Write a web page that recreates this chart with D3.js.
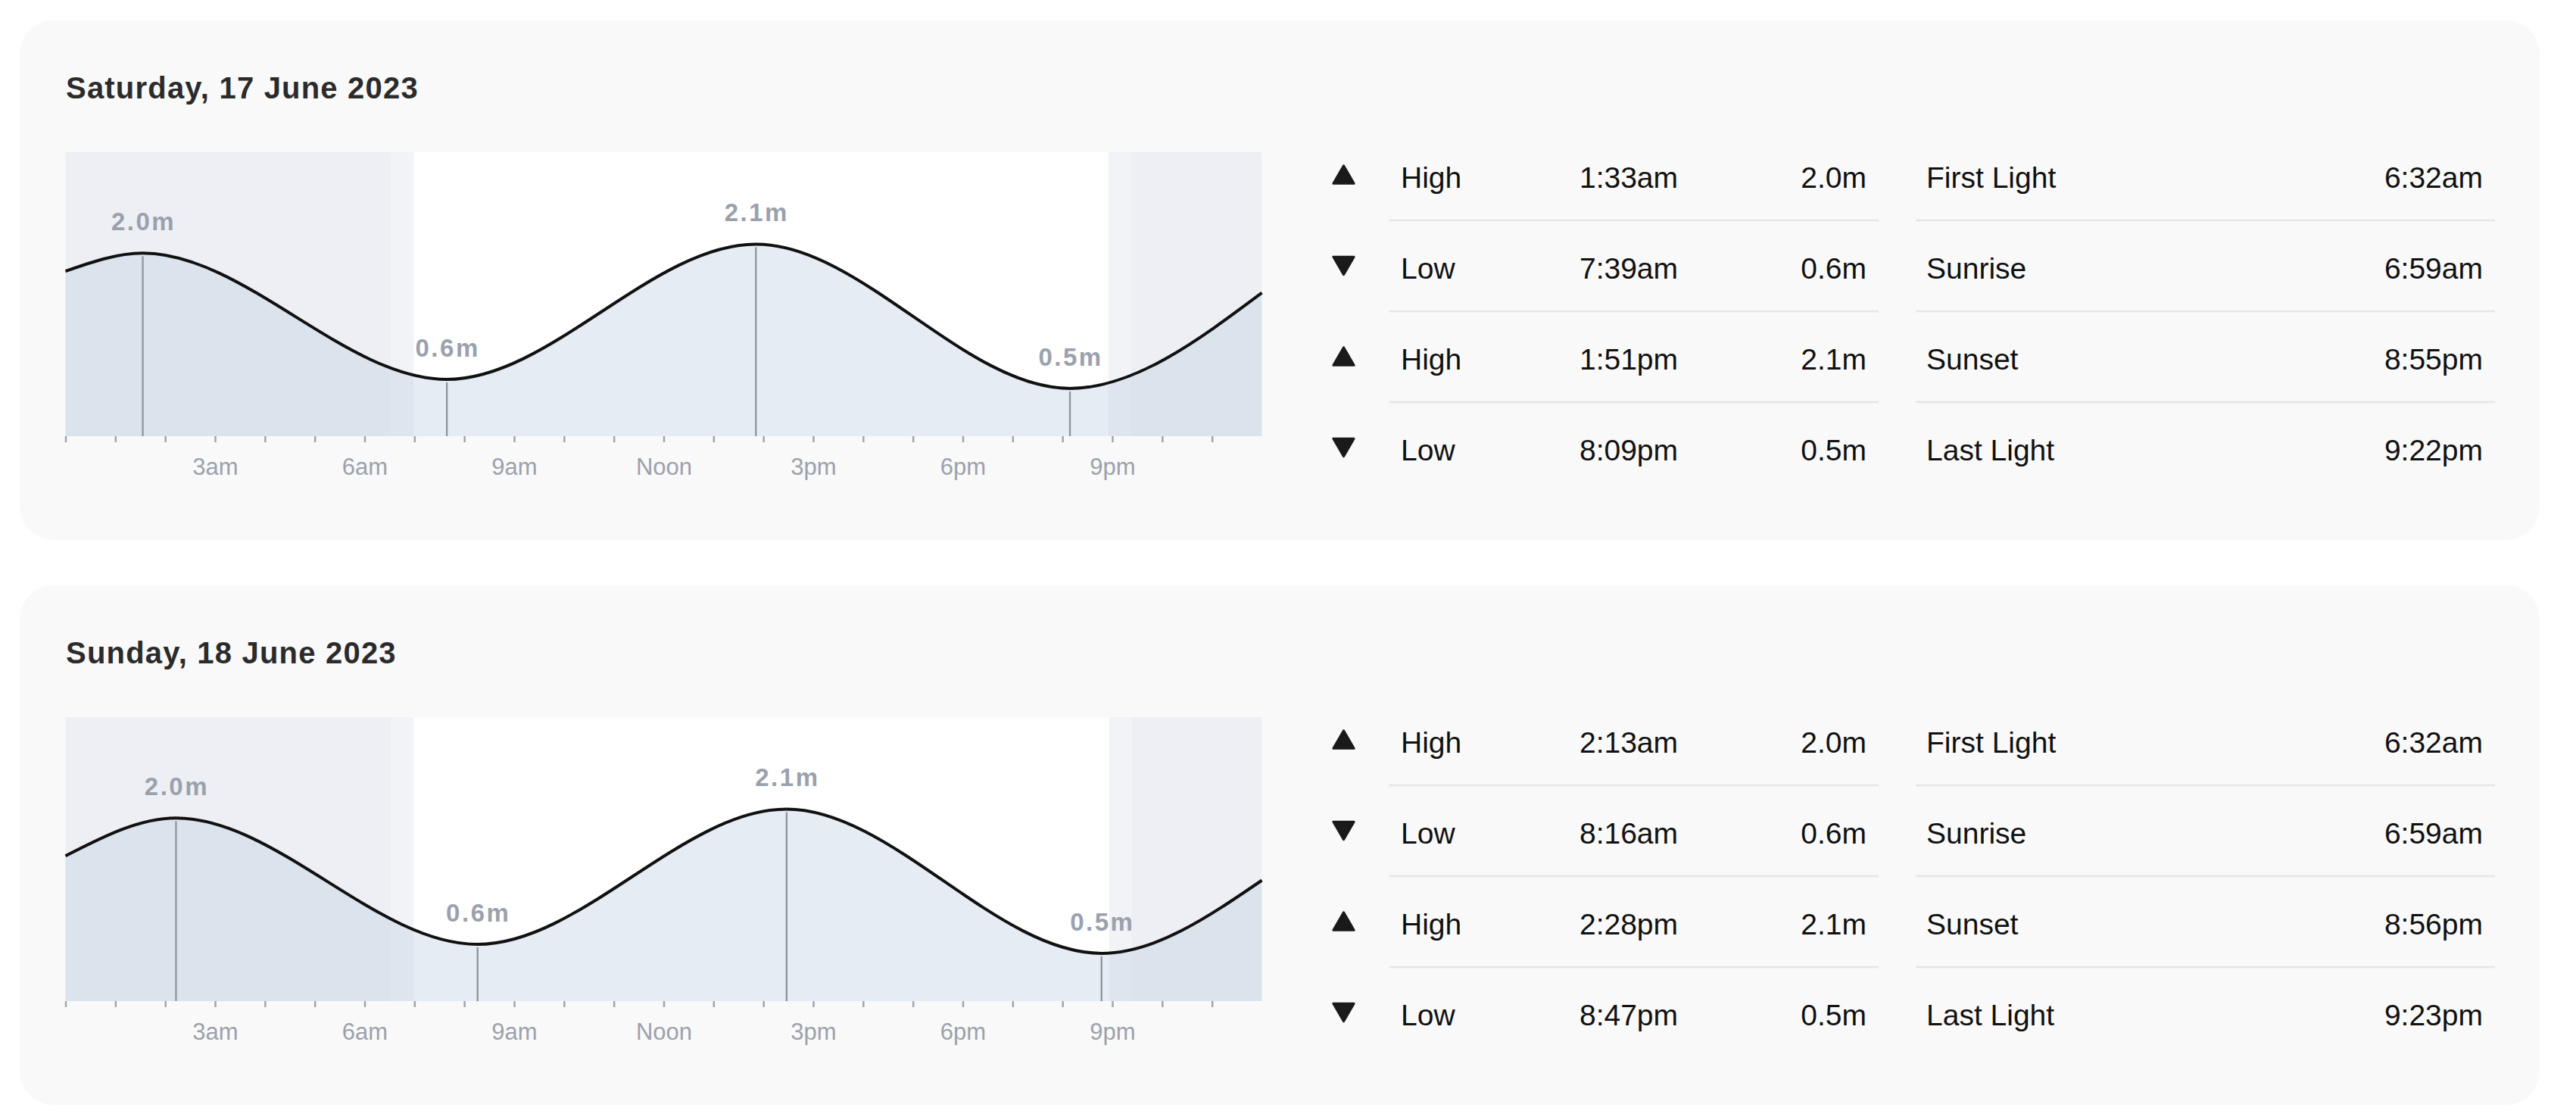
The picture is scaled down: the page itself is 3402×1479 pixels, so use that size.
<html>

<head>
    <script src="https://d3js.org/d3.v7.min.js"></script>
    <style>
        body {
            margin: 0;
            background: white;
        }

        text {
            font-family: "Liberation Sans", Arial, sans-serif;
        }

        .tick text {
            font-size: 31px;
            fill: #9ba1ab;
        }

        .tick line {
            stroke: #a0a5ad;
            stroke-width: 2.5px;
        }
    </style>
</head>

<body>
    <svg id="tides" width="3402" height="1479"></svg>
    <script>
        // values
        const dayTitles = ["Saturday, 17 June 2023", "Sunday, 18 June 2023"];
        const tideTypes = ["High", "Low", "High", "Low"];
        const satTideTimes = ["1:33am", "7:39am", "1:51pm", "8:09pm"];
        const satTideHeights = [2.0, 0.6, 2.1, 0.5];
        const sunTideTimes = ["2:13am", "8:16am", "2:28pm", "8:47pm"];
        const sunTideHeights = [2.0, 0.6, 2.1, 0.5];
        // height of the curve at midnight (start, end of day), estimated
        const satEdgeHeights = [1.80, 1.56];
        const sunEdgeHeights = [1.58, 1.31];
        const lightNames = ["First Light", "Sunrise", "Sunset", "Last Light"];
        const satLightTimes = ["6:32am", "6:59am", "8:55pm", "9:22pm"];
        const sunLightTimes = ["6:32am", "6:59am", "8:56pm", "9:23pm"];
        const tickHours = [3, 6, 9, 12, 15, 18, 21];
        const tickLabels = ["3am", "6am", "9am", "Noon", "3pm", "6pm", "9pm"];

        const days = [
            { title: dayTitles[0], times: satTideTimes, heights: satTideHeights, edges: satEdgeHeights, light: satLightTimes },
            { title: dayTitles[1], times: sunTideTimes, heights: sunTideHeights, edges: sunEdgeHeights, light: sunLightTimes }
        ];

        const svg = d3.select("#tides");
        const parseTime = d3.timeParse("%I:%M%p");
        const toHours = s => {
            const t = parseTime(s);
            return t.getHours() + t.getMinutes() / 60;
        };

        const chartTop = 174, chartBottom = 549;
        const x = d3.scaleLinear().domain([0, 24]).range([86.5, 1666.5]);
        const y = d3.scaleLinear().domain([-0.03, 3.12]).range([chartBottom, chartTop]);

        const area = d3.area()
            .x(d => x(d.h))
            .y0(chartBottom)
            .y1(d => y(d.v))
            .curve(d3.curveMonotoneX);
        const line = d3.line()
            .x(d => x(d.h))
            .y(d => y(d.v))
            .curve(d3.curveMonotoneX);

        const tickText = d3.scaleOrdinal().domain(tickHours).range(tickLabels);

        days.forEach((day, i) => {
            const g = svg.append("g").attr("transform", `translate(0, ${27 + i * 746})`);

            g.append("rect")
                .attr("x", 26).attr("y", 0)
                .attr("width", 3328).attr("height", 686)
                .attr("rx", 44)
                .attr("fill", "#f9f9f9");

            g.append("text")
                .attr("x", 87).attr("y", 103)
                .attr("font-size", 40)
                .attr("font-weight", "bold")
                .attr("letter-spacing", 1.2)
                .attr("fill", "#2b2b2b")
                .text(day.title);

            // chart background: day is white, night and twilight shaded
            const [first, rise, set, last] = day.light.map(toHours);
            const bands = [
                { from: 0, to: 24, fill: "#ffffff" },
                { from: 0, to: first, fill: "#edeff4" },
                { from: first, to: rise, fill: "#f2f3f6" },
                { from: set, to: last, fill: "#f2f3f6" },
                { from: last, to: 24, fill: "#edeff4" }
            ];
            g.selectAll("rect.band").data(bands)
                .join("rect")
                .attr("class", "band")
                .attr("x", d => x(d.from))
                .attr("width", d => x(d.to) - x(d.from))
                .attr("y", chartTop)
                .attr("height", chartBottom - chartTop)
                .attr("fill", d => d.fill);

            const extremes = day.times.map((t, k) => ({ h: toHours(t), v: day.heights[k] }));
            const points = [{ h: 0, v: day.edges[0] }, ...extremes, { h: 24, v: day.edges[1] }];

            g.append("path").datum(points)
                .attr("d", area)
                .attr("fill", "rgba(196, 212, 228, 0.44)");

            g.selectAll("line.mark").data(extremes)
                .join("line")
                .attr("class", "mark")
                .attr("x1", d => x(d.h)).attr("x2", d => x(d.h))
                .attr("y1", d => y(d.v) + 4).attr("y2", chartBottom)
                .attr("stroke", "#8f949c")
                .attr("stroke-width", 2.3);

            g.append("path").datum(points)
                .attr("d", line)
                .attr("fill", "none")
                .attr("stroke", "#111")
                .attr("stroke-width", 4);

            g.selectAll("text.level").data(extremes)
                .join("text")
                .attr("class", "level")
                .attr("x", d => x(d.h) + 1)
                .attr("y", d => y(d.v) - 30)
                .attr("text-anchor", "middle")
                .attr("font-size", 33)
                .attr("font-weight", "bold")
                .attr("letter-spacing", 2.5)
                .attr("fill", "#9aa1ad")
                .text(d => d3.format(".1f")(d.v) + "m");

            const axis = d3.axisBottom(x)
                .tickValues(d3.range(0, 24))
                .tickSize(8)
                .tickPadding(21)
                .tickFormat(h => tickHours.includes(h) ? tickText(h) : "");
            g.append("g")
                .attr("transform", `translate(0, ${chartBottom})`)
                .call(axis)
                .call(a => a.select(".domain").remove());

            // tide table
            const rowY = k => 221 + k * 120;
            const tri = d3.symbol(d3.symbolTriangle, 320);
            const rows = tideTypes.map((type, k) => ({ type, time: day.times[k], height: day.heights[k], light: lightNames[k], lightTime: day.light[k] }));

            g.selectAll("path.icon").data(rows)
                .join("path")
                .attr("class", "icon")
                .attr("d", tri)
                .attr("transform", (d, k) => d.type === "High"
                    ? `translate(1774.5, ${rowY(k) - 13.5})`
                    : `translate(1774.5, ${rowY(k) - 21}) rotate(180)`)
                .attr("fill", "#1a1a1a")
                .attr("stroke", "#1a1a1a")
                .attr("stroke-width", 3)
                .attr("stroke-linejoin", "round");

            const cells = [
                { x: 1850, anchor: "start", val: d => d.type },
                { x: 2151, anchor: "middle", val: d => d.time },
                { x: 2465, anchor: "end", val: d => d3.format(".1f")(d.height) + "m" },
                { x: 2544, anchor: "start", val: d => d.light },
                { x: 3279, anchor: "end", val: d => d.lightTime }
            ];
            cells.forEach(c => {
                g.append("g").selectAll("text").data(rows)
                    .join("text")
                    .attr("x", c.x)
                    .attr("y", (d, k) => rowY(k))
                    .attr("text-anchor", c.anchor)
                    .attr("font-size", 39)
                    .attr("fill", "#111")
                    .text(c.val);
            });

            const seps = [[1834.5, 2481], [2530, 3295]];
            seps.forEach(([a, b]) => {
                g.append("g").selectAll("line").data(rows.slice(0, 3))
                    .join("line")
                    .attr("x1", a).attr("x2", b)
                    .attr("y1", (d, k) => rowY(k) + 43)
                    .attr("y2", (d, k) => rowY(k) + 43)
                    .attr("stroke", "#e6e6ea")
                    .attr("stroke-width", 2.5);
            });
        });
    </script>
</body>

</html>
